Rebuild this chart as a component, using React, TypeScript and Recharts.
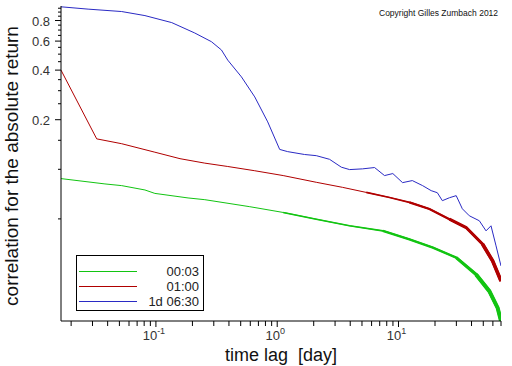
import React from "react";
import { LineChart, Line, XAxis, YAxis, Legend } from "recharts";

document.body.style.margin = "0";

// time lag in days / correlation
const lag0003 = [0.0165, 0.038, 0.0522, 0.0812, 0.098, 0.184, 0.253, 0.594, 1.12, 2.1, 3.95, 7.43, 12.3, 19.2, 29.9, 43.6, 56.1, 65.7, 70];
const corr0003 = [0.0878, 0.0815, 0.0796, 0.0749, 0.0714, 0.067, 0.0654, 0.0593, 0.0547, 0.0498, 0.0454, 0.0423, 0.0376, 0.0335, 0.0291, 0.023, 0.0182, 0.0144, 0.012];

const lag0100 = [0.0165, 0.0325, 0.0522, 0.098, 0.158, 0.253, 0.391, 0.653, 1.12, 2.1, 3.46, 5.42, 8.43, 12.3, 18.0, 26.3, 36.1, 49.4, 59.7, 70];
const corr0100 = [0.4, 0.153, 0.143, 0.127, 0.116, 0.109, 0.104, 0.098, 0.0916, 0.0834, 0.0777, 0.0724, 0.0675, 0.063, 0.0574, 0.0498, 0.0443, 0.0351, 0.0278, 0.021];

const lag1d0630 = [0.0165, 0.0276, 0.0522, 0.0812, 0.135, 0.209, 0.287, 0.347, 0.391, 0.507, 0.653, 0.835, 1.048, 1.22, 1.68, 2.1, 2.7, 3.38, 3.95, 5.05, 6.35, 7.67, 8.98, 10.8, 13.0, 15.8, 18.6, 20.9, 23.0, 26.3, 29.9, 33.6, 38.4, 46.4, 52.7, 57.9, 63.7, 70];
const corr1d0630 = [0.969, 0.938, 0.907, 0.857, 0.777, 0.672, 0.595, 0.53, 0.46, 0.364, 0.275, 0.194, 0.132, 0.128, 0.123, 0.121, 0.115, 0.103, 0.0996, 0.1006, 0.1025, 0.0916, 0.0942, 0.083, 0.0854, 0.0796, 0.0742, 0.0721, 0.0645, 0.0672, 0.0692, 0.0576, 0.0522, 0.0487, 0.0423, 0.0454, 0.0343, 0.0259];

const seriesNames = ["00:03", "01:00", "1d 06:30"];
const seriesColors = ["#12c412", "#b00000", "#2a2ac4"];

const xTicks = [
  0.02, 0.03, 0.04, 0.05, 0.06, 0.07, 0.08, 0.09,
  0.1, 0.2, 0.3, 0.4, 0.5, 0.6, 0.7, 0.8, 0.9,
  1, 2, 3, 4, 5, 6, 7, 8, 9,
  10, 20, 30, 40, 50, 60, 70,
];
const xMajor = [0.1, 1, 10];
const xExponents = ["-1", "0", "1"];

const yTicks = [0.05, 0.1, 0.15, 0.2, 0.25, 0.3, 0.35, 0.4, 0.45, 0.5, 0.55, 0.6, 0.65, 0.7, 0.75, 0.8, 0.85, 0.9, 0.95];
const yLabelled = [0.2, 0.4, 0.6, 0.8];

// noise band gets wider with the lag: [from lag, stroke width]
const greenBands: [number, number][] = [[2, 1.6], [10, 2.4], [30, 3.2], [55, 4]];
const redBands: [number, number][] = [[8, 1.6], [18, 2.2], [35, 3], [55, 3.6]];

const toPoints = (lag: number[], corr: number[]) => lag.map((l, i) => ({ lag: l, corr: corr[i] }));

const green = toPoints(lag0003, corr0003);
const red = toPoints(lag0100, corr0100);
const blue = toPoints(lag1d0630, corr1d0630);

const same = (a: number, b: number) => Math.abs(a - b) < 1e-9;

// eslint-disable-next-line @typescript-eslint/no-explicit-any
const XTick = (props: any) => {
  const { x, y, payload } = props;
  const idx = xMajor.findIndex((m) => same(m, payload.value));
  return (
    <g>
      <line x1={x} x2={x} y1={y} y2={y + (idx >= 0 ? 6 : 5)} stroke="#000" />
      {idx >= 0 && (
        <text x={x - 2} y={y + 19} textAnchor="middle" fontSize={13} fill="#333" fontFamily="Liberation Sans, Arial, sans-serif">
          10
          <tspan dy={-6} fontSize={9}>{xExponents[idx]}</tspan>
        </text>
      )}
    </g>
  );
};

// eslint-disable-next-line @typescript-eslint/no-explicit-any
const YTick = (props: any) => {
  const { x, y, payload } = props;
  const major = yLabelled.some((m) => same(m, payload.value));
  return (
    <g>
      <line x1={x - (major ? 6 : 3)} x2={x} y1={y} y2={y} stroke="#000" />
      {major && (
        <text x={x - 11} y={y + 5} textAnchor="end" fontSize={13} fill="#333" fontFamily="Liberation Sans, Arial, sans-serif">
          {payload.value}
        </text>
      )}
    </g>
  );
};

const LegendBox = () => (
  <div
    style={{
      width: 126,
      height: 54,
      border: "1px solid #000",
      background: "#fff",
      fontFamily: "Liberation Sans, Arial, sans-serif",
      fontSize: 13,
      color: "#222",
      position: "relative",
    }}
  >
    {seriesNames.map((name, i) => (
      <div key={name} style={{ position: "absolute", left: 0, top: 8 + i * 15, width: 126, height: 15 }}>
        <div style={{ position: "absolute", left: 2, top: 7, width: 58, height: 1, background: seriesColors[i] }} />
        <div style={{ position: "absolute", right: 4, top: 0, lineHeight: "15px" }}>{name}</div>
      </div>
    ))}
  </div>
);

const bandLines = (pts: { lag: number; corr: number }[], bands: [number, number][], color: string, key: string) =>
  bands.map(([from, w], i) => {
    // start at the last point before the band so segments join
    const start = Math.max(0, pts.findIndex((p) => p.lag >= from) - 1);
    return (
      <Line
        key={key + i}
        data={pts.slice(start)}
        dataKey="corr"
        stroke={color}
        strokeWidth={w}
        dot={false}
        isAnimationActive={false}
        legendType="none"
      />
    );
  });

export default function App() {
  return (
    <div style={{ position: "relative", width: 512, height: 366, background: "#fff" }}>
      <LineChart width={512} height={366} margin={{ top: 6, right: 11, left: 0, bottom: 5 }}>
        <XAxis
          dataKey="lag"
          type="number"
          scale="log"
          domain={[0.0165, 70]}
          allowDataOverflow
          ticks={xTicks}
          interval={0}
          tick={<XTick />}
          tickSize={0}
          tickMargin={0}
          tickLine={false}
          axisLine={{ stroke: "#000" }}
          height={40}
          label={{
            // eslint-disable-next-line @typescript-eslint/no-explicit-any
            content: (p: any) => (
              <text
                x={p.viewBox.x + p.viewBox.width / 2}
                y={p.viewBox.y + 40}
                textAnchor="middle"
                fontSize={18}
                fill="#111"
                fontFamily="Liberation Sans, Arial, sans-serif"
                style={{ whiteSpace: "pre" }}
              >
                {"time lag  [day]"}
              </text>
            ),
          }}
        />
        <YAxis
          dataKey="corr"
          type="number"
          scale="log"
          domain={[0.012, 0.98]}
          allowDataOverflow
          ticks={yTicks}
          interval={0}
          tick={<YTick />}
          tickSize={0}
          tickMargin={0}
          tickLine={false}
          axisLine={{ stroke: "#000" }}
          width={61}
          label={{
            content: () => (
              <text
                x={18}
                y={166}
                transform="rotate(-90 18 166)"
                textAnchor="middle"
                fontSize={19}
                fill="#111"
                fontFamily="Liberation Sans, Arial, sans-serif"
              >
                correlation for the absolute return
              </text>
            ),
          }}
        />
        <Line data={green} dataKey="corr" stroke={seriesColors[0]} strokeWidth={1} dot={false} isAnimationActive={false} legendType="none" />
        {bandLines(green, greenBands, seriesColors[0], "g")}
        <Line data={red} dataKey="corr" stroke={seriesColors[1]} strokeWidth={1} dot={false} isAnimationActive={false} legendType="none" />
        {bandLines(red, redBands, seriesColors[1], "r")}
        <Line data={blue} dataKey="corr" stroke={seriesColors[2]} strokeWidth={1} dot={false} isAnimationActive={false} legendType="none" />
        <Legend
          layout="vertical"
          align="center"
          verticalAlign="middle"
          content={<LegendBox />}
          wrapperStyle={{ left: 76, top: 255, width: 128, height: 56 }}
        />
      </LineChart>
      <div
        style={{
          position: "absolute",
          left: 379,
          top: 8,
          fontSize: 8.5,
          fontFamily: "Liberation Sans, Arial, sans-serif",
          color: "#111",
          whiteSpace: "nowrap",
        }}
      >
        Copyright Gilles Zumbach 2012
      </div>
    </div>
  );
}
